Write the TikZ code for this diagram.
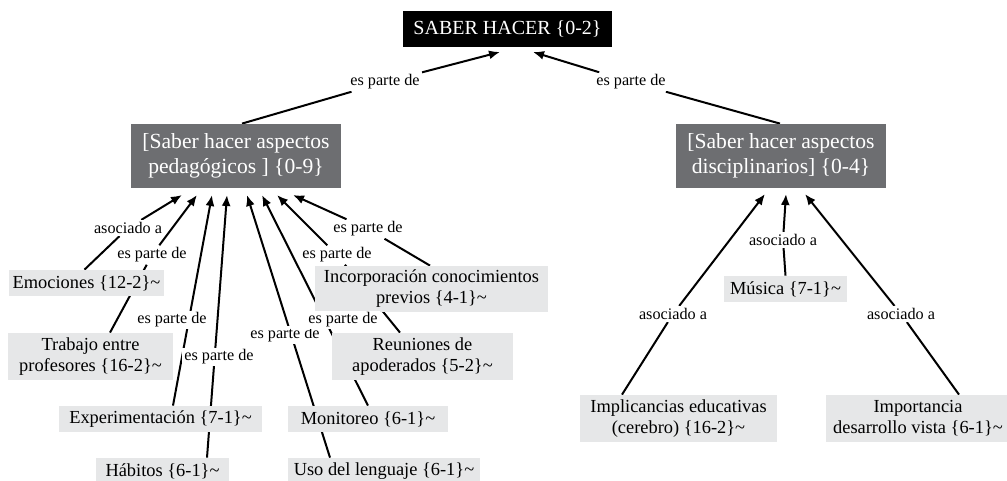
\documentclass[tikz,border=0pt]{standalone}
\usepackage{fontspec}
\setmainfont{Liberation Serif}
\usetikzlibrary{arrows.meta,calc}
\pgfdeclarelayer{back}
\pgfdeclarelayer{bg}
\pgfsetlayers{back,bg,main}
\definecolor{darkbox}{RGB}{109,110,113}
\definecolor{lightbox}{RGB}{230,231,232}
\begin{document}
\begin{tikzpicture}[x=0.5pt,y=-0.5pt,
  base/.style={inner sep=0pt, align=center},
  topbox/.style={base, fill=black, text=white, font=\fontsize{10}{12}\selectfont},
  midbox/.style={base, fill=darkbox, text=white, font=\fontsize{10.8}{12.5}\selectfont},
  concept/.style={base, fill=lightbox, text=black, font=\fontsize{9.2}{10.5}\selectfont},
  lbl/.style={fill=white, inner sep=1pt, font=\fontsize{8.1}{9}\selectfont},
  arr/.style={draw=black, line width=1pt, -{Latex[length=5.5pt,width=4.5pt]}}
]
\begin{pgfonlayer}{back}
\fill[white] (0,0) rectangle (1007,481);
\end{pgfonlayer}
\useasboundingbox (0,0) rectangle (1007,481);

% concepts
\node[topbox, minimum width=104.5pt, minimum height=18pt] (saber) at (507.5,29) {SABER HACER \{0-2\}};
\node[midbox, minimum width=105pt, minimum height=32pt] (ped) at (236,156) {[Saber hacer aspectos\\pedagógicos ] \{0-9\}};
\node[midbox, minimum width=105pt, minimum height=32pt] (disc) at (781,156) {[Saber hacer aspectos\\disciplinarios] \{0-4\}};

\node[concept, minimum width=77.5pt, minimum height=13pt] (emo) at (86.5,283) {Emociones \{12-2\}\textasciitilde};
\node[concept, minimum width=116.5pt, minimum height=23pt] (inc) at (431.5,289) {Incorporación conocimientos\\previos \{4-1\}\textasciitilde};
\node[concept, minimum width=82.5pt, minimum height=23.5pt] (trab) at (90.5,356.5) {Trabajo entre\\profesores \{16-2\}\textasciitilde};
\node[concept, minimum width=90.5pt, minimum height=23.5pt] (reun) at (422.5,356.5) {Reuniones de\\apoderados \{5-2\}\textasciitilde};
\node[concept, minimum width=101.5pt, minimum height=13pt] (exp) at (160.5,419) {Experimentación \{7-1\}\textasciitilde};
\node[concept, minimum width=80pt, minimum height=13pt] (mon) at (368,419) {Monitoreo \{6-1\}\textasciitilde};
\node[concept, minimum width=66.5pt, minimum height=13pt] (hab) at (162.5,471) {Hábitos \{6-1\}\textasciitilde};
\node[concept, minimum width=96pt, minimum height=13pt] (uso) at (384,471) {Uso del lenguaje \{6-1\}\textasciitilde};
\node[concept, minimum width=61.5pt, minimum height=13pt] (mus) at (785.5,289) {Música \{7-1\}\textasciitilde};
\node[concept, minimum width=98.5pt, minimum height=23.5pt] (impl) at (678.5,418.5) {Implicancias educativas\\(cerebro) \{16-2\}\textasciitilde};
\node[concept, minimum width=92pt, minimum height=23.5pt] (impo) at (918,418.5) {Importancia\\desarrollo vista \{6-1\}\textasciitilde};

% linking phrases
\node[lbl] (ls1) at (385,82) {es parte de};
\node[lbl] (ls2) at (631,82) {es parte de};
\node[lbl] (l1) at (128,228) {asociado a};
\node[lbl] (l2) at (152,255) {es parte de};
\node[lbl] (l3) at (172,320) {es parte de};
\node[lbl] (l4) at (219,357) {es parte de};
\node[lbl] (l5) at (285,335) {es parte de};
\node[lbl] (l6) at (343,320) {es parte de};
\node[lbl] (l7) at (337,255) {es parte de};
\node[lbl] (l8) at (368,229) {es parte de};
\node[lbl] (m1) at (673,314) {asociado a};
\node[lbl] (m2) at (783,240) {asociado a};
\node[lbl] (m3) at (901,314) {asociado a};

% arrow ends
\coordinate (s1) at (500,52);
\coordinate (s2) at (533,52);
\coordinate (p1) at (182,195);
\coordinate (p2) at (197,195);
\coordinate (p3) at (212,195);
\coordinate (p4) at (227,195);
\coordinate (p5) at (247,195);
\coordinate (p6) at (262,195);
\coordinate (p7) at (277,195);
\coordinate (p8) at (293,195);
\coordinate (d1) at (765,194);
\coordinate (d2) at (786,194);
\coordinate (d3) at (805,194);

\begin{pgfonlayer}{bg}
\draw[arr] ($(ped.north)+(6,0)$) -- (ls1) -- (s1);
\draw[arr] ($(disc.north)+(-1,0)$) -- (ls2) -- (s2);
\draw[arr] ($(emo.north)+(-2,0)$) -- (l1) -- (p1);
\draw[arr] ($(trab.north)+(19.5,0)$) -- (l2) -- (p2);
\draw[arr] ($(exp.north)+(12.5,0)$) -- (p3);
\draw[arr] ($(hab.north)+(44.5,0)$) -- (p4);
\draw[arr] ($(uso.north)+(-54,0)$) -- (p5);
\draw[arr] (mon.north) -- (p6);
\draw[arr] ($(reun.north)+(-22.5,0)$) -- (l7) -- (p7);
\draw[arr] ($(inc.north)+(-1.5,0)$) -- (l8) -- (p8);
\draw[arr] ($(impl.north)+(-56.5,0)$) -- (m1) -- (d1);
\draw[arr] (mus.north) -- (m2) -- (d2);
\draw[arr] ($(impo.north)+(41,0)$) -- (m3) -- (d3);
\end{pgfonlayer}
\end{tikzpicture}
\end{document}
